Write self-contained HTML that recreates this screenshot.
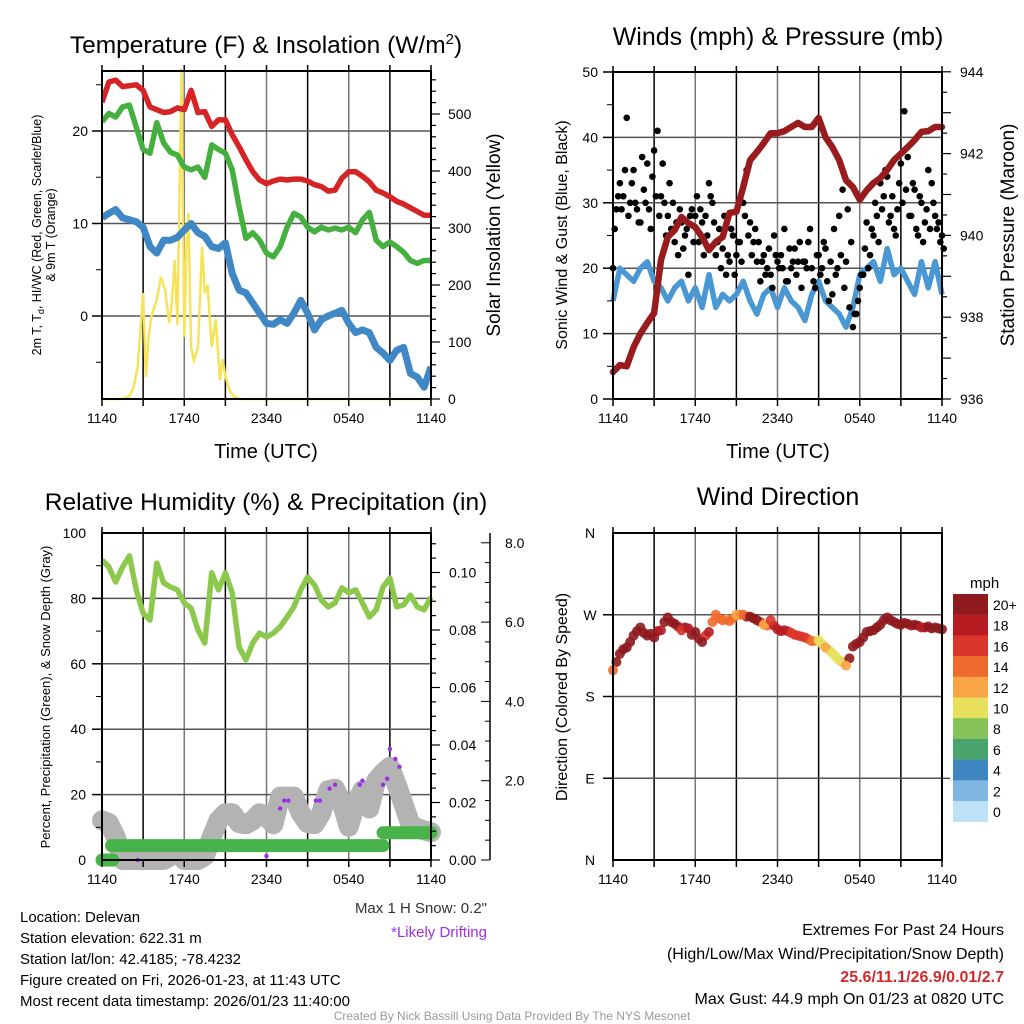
<!DOCTYPE html>
<html><head><meta charset="utf-8"><style>
body{margin:0;background:#fff;}
svg{display:block;font-family:"Liberation Sans",sans-serif;}
</style></head><body>
<svg id="c" width="1024" height="1024" xmlns="http://www.w3.org/2000/svg">
<g id="grid"></g><g id="marks"></g><g id="axes"></g>
<g id="txt" fill="#000">
<text x="266" y="53" font-size="24.5" text-anchor="middle">Temperature (F) &amp; Insolation (W/m<tspan dy="-9" font-size="15">2</tspan><tspan dy="9">)</tspan></text>
<text x="778" y="45" font-size="25" text-anchor="middle">Winds (mph) &amp; Pressure (mb)</text>
<text x="266" y="510" font-size="24.5" text-anchor="middle">Relative Humidity (%) &amp; Precipitation (in)</text>
<text x="778" y="505" font-size="25" text-anchor="middle">Wind Direction</text>
<text x="266" y="458" font-size="20" text-anchor="middle">Time (UTC)</text>
<text x="778" y="458" font-size="20" text-anchor="middle">Time (UTC)</text>
<text transform="translate(41,235) rotate(-90)" font-size="12.5" text-anchor="middle">2m T, T<tspan font-size="9" dy="3">d</tspan><tspan dy="-3">, HI/WC (Red, Green, Scarlet/Blue)</tspan></text>
<text transform="translate(55,235) rotate(-90)" font-size="12.5" text-anchor="middle">&amp; 9m T (Orange)</text>
<text transform="translate(500,235) rotate(-90)" font-size="19" text-anchor="middle">Solar Insolation (Yellow)</text>
<text transform="translate(567,235) rotate(-90)" font-size="16" text-anchor="middle">Sonic Wind &amp; Gust (Blue, Black)</text>
<text transform="translate(1014,235) rotate(-90)" font-size="19" text-anchor="middle">Station Pressure (Maroon)</text>
<text transform="translate(50,697) rotate(-90)" font-size="13" text-anchor="middle">Percent, Precipitation (Green), &amp; Snow Depth (Gray)</text>
<text transform="translate(567,697) rotate(-90)" font-size="16" text-anchor="middle">Direction (Colored By Speed)</text>
<text x="487" y="913" font-size="15" fill="#333" text-anchor="end">Max 1 H Snow: 0.2"</text>
<text x="487" y="937" font-size="15" fill="#9b30e8" text-anchor="end">*Likely Drifting</text>
<g font-size="15">
<text x="20" y="922">Location: Delevan</text>
<text x="20" y="943">Station elevation: 622.31 m</text>
<text x="20" y="964">Station lat/lon: 42.4185; -78.4232</text>
<text x="20" y="985">Figure created on Fri, 2026-01-23, at 11:43 UTC</text>
<text x="20" y="1006">Most recent data timestamp: 2026/01/23 11:40:00</text>
</g>
<g font-size="16" text-anchor="end">
<text x="1004" y="935">Extremes For Past 24 Hours</text>
<text x="1004" y="959">(High/Low/Max Wind/Precipitation/Snow Depth)</text>
<text x="1004" y="982" fill="#d02a2a" font-weight="bold">25.6/11.1/26.9/0.01/2.7</text>
<text x="1004" y="1004">Max Gust: 44.9 mph On 01/23 at 0820 UTC</text>
</g>
<text x="512" y="1020" font-size="12" fill="#999" text-anchor="middle">Created By Nick Bassill Using Data Provided By The NYS Mesonet</text>
<text x="970" y="588" font-size="15">mph</text>
</g>
</svg>
<script>
// ---- data (half-hourly, hours since 1140 UTC) ----
const xLabels=["1140","1740","2340","0540","1140"];
const tempRed=[23.1,25.3,25.5,24.8,24.9,25,24.4,22.6,22.3,22,22.1,22.5,22.3,24.4,22,22.1,20.5,21.2,21.2,19.6,18.3,16.9,15.6,14.7,14.3,14.6,14.8,14.7,14.8,14.8,14.6,14.2,14,13.5,13.6,14.9,15.6,15.6,15.1,14.5,13.6,13.3,12.9,12.4,12.1,11.7,11.3,10.9,10.9];
const dewGreen=[21,21.9,21.5,22.6,22.8,20.4,18,17.6,20.9,18.7,17.7,17.4,16.1,15.8,16.1,15,18.5,18,17.6,15.8,11.8,8.4,9,8.2,6.8,6.4,7.5,9.6,11.1,10.7,9.6,9.1,9.6,9.3,9.5,9.3,9.6,9,10.4,11.2,8.2,7.5,8,7.5,6.9,6,5.7,6,6];
const chillBlue=[10.6,11.1,11.5,10.6,10.4,10.2,9.6,7.5,6.8,8.2,8.2,8.5,9.3,10,9,8.6,7.5,7.3,7.9,4.6,2.8,2.5,1.4,0.3,-0.8,-0.9,-0.4,-0.8,0.3,1.7,0.3,-1.5,-0.4,0,0.3,0.6,-0.8,-1.8,-1.5,-1.8,-3.4,-4,-4.8,-3.7,-3.4,-6.2,-6.6,-7.7,-5.5];
const solarHours=[0,1.5,2,2.3,2.6,2.8,3,3.2,3.4,3.6,3.8,4,4.3,4.6,4.9,5.1,5.3,5.5,5.8,6,6.15,6.3,6.5,6.7,7,7.3,7.5,7.7,8,8.3,8.6,8.8,9,9.3,9.6,10,10.3,10.5,24];
const solarVals=[0,0,5,20,56,121,186,39,109,144,160,174,214,191,133,170,244,130,580,109,260,326,91,68,90,267,186,200,91,140,33,70,40,15,5,0,0,0,0];
const windBlue=[15,20,19,18,20,21,18,17,15,17,18,15,17,14,19,14,16,15,16,18,15,13,16,17,14,17,15,14,12,16,18,15,14,13,11,14,19,20,21,18,23,19,20,18,16,21,17,21,16];
const gustVals=[20,29,33,31,43,30,35,29,27,32,36,26,38,41,31,30,28,26,24,22,27,25,19,29,28,24,27,28,33,30,22,26,23,19,21,25,22,24,30,35,27,24,21,18,22,20,19,25,21,22,26,18,20,23,21,17,21,24,20,17,22,20,23,15,16,19,28,32,21,14,11,13,17,19,27,22,25,28,33,31,34,28,26,29,36,44,37,28,32,25,30,27,35,33,28,27,25];
const gustVals2=[26,31,29,35,28,33,30,27,37,30,29,34,31,28,36,25,33,30,27,29,23,26,28,24,31,29,22,25,31,27,24,20,28,22,26,19,24,21,28,25,22,26,24,21,19,23,17,22,20,20,18,23,21,19,24,21,20,26,18,22,19,24,18,21,26,20,22,17,29,24,13,15,19,23,20,26,30,24,29,35,27,31,25,33,30,32,28,33,26,31,24,29,26,30,26,24,23];
const pressure=[936.66,936.83,936.8,937.27,937.6,937.86,938.1,939.4,939.96,940.13,940.45,940.3,940.2,939.96,939.64,939.84,939.96,940.55,940.58,941.18,941.84,942.04,942.26,942.5,942.5,942.55,942.65,942.75,942.65,942.65,942.87,942.4,942.16,941.84,941.35,941.18,940.87,941.1,941.28,941.4,941.6,941.84,942.0,942.16,942.33,942.53,942.55,942.65,942.65];
const rhGreen=[91.7,89.6,85,89.6,93,82.6,75.5,73.4,90.8,84.7,83.5,82.6,78.6,77,70.3,66.4,87.8,82.6,87.8,81.7,65.1,61.2,66.4,69.4,68.2,69.4,71.3,74.3,77.4,82.6,86.5,84.1,79.5,77.4,78.6,83.2,81.7,82.6,78.6,74.3,76.5,83.5,86.2,77.4,78,81,77.4,76.5,80.4];
const precipStartHours=[0,0.7,20.5];
const precipEndHours=[0.8,20.5,24];
const precipVals=[0,0.005,0.0095];
const snowDepth=[1.0,0.93,0.58,0,0,0,0,0,0,0,0.1,0.25,0,0,0,0.1,0.58,1.0,1.18,1.18,0.93,0.9,1.0,1.18,1.1,0.9,1.6,1.6,1.6,1.18,0.93,0.9,1.18,1.76,1.8,1.43,0.84,1.43,1.76,1.3,2.0,2.2,2.35,1.9,1.4,0.9,0.8,0.75,0.7];
const driftHours=[2.6,12,13,13.3,13.6,15.6,15.9,16.6,17,18.8,19,20.5,20.8,21,21.4,21.7];
const driftVals=[0,0.1,1.3,1.5,1.5,1.5,1.5,1.8,1.9,1.9,2.0,1.9,2.05,2.8,2.55,2.35];
const dirDeg=[209,227,234,247,256,247,245,253,267,260,253,255,251,240,251,270,264,263,270,270,268,264,259,264,254,253,250,247,245,241,242,234,228,220,214,235,240,251,253,259,267,262,259,260,259,256,257,256,254];
const dirSpeed=[14,20,20,20,20,20,20,19,20,20,17,18,20,20,18,14,15,14,13,15,20,20,12,16,18,18,17,16,16,14,10,12,10,10,13,20,20,20,20,20,20,20,20,20,20,18,20,20,20];
const dirDeg2=[218,232,240,252,250,249,252,262,262,257,256,248,244,247,262,266,265,266,270,268,266,262,258,258,252,252,248,246,243,241,238,231,224,218,222,238,245,252,256,264,264,260,261,258,258,256,255,255];
const dirSpeed2=[20,20,20,20,20,20,20,20,20,18,20,20,20,17,15,14,13,15,14,20,20,16,14,18,18,17,16,16,15,12,11,10,10,12,20,20,20,20,20,20,20,20,20,19,20,20,20,20];
const cbLabels=["20+","18","16","14","12","10","8","6","4","2","0"];
const cbColors=["#8e1a1e","#b71c23","#d9352a","#ef6a2d","#f7a546","#e8e05c","#86c25a","#4aa46e","#3f86c0","#7fb6e2","#bfe1f5"];

const NS="http://www.w3.org/2000/svg";
const G=document.getElementById('grid'),M=document.getElementById('marks'),A=document.getElementById('axes');
function mk(p,tag,at){const e=document.createElementNS(NS,tag);for(const k in at)e.setAttribute(k,at[k]);p.appendChild(e);return e;}
function pathD(xs,ys){return xs.map((x,i)=>(i?'L':'M')+x.toFixed(1)+' '+ys[i].toFixed(1)).join(' ');}
const half=[...Array(49).keys()].map(i=>i/2);
function panelX(x0){return h=>x0+h/24*329;}
function frame(x0,y0,w,h,hgrid,name){
  for(let i=0;i<=8;i++){const x=x0+i*w/8;const l=mk(G,'line',{x1:x,x2:x,y1:y0,y2:y0+h,stroke:i%2?'#000':'#777','stroke-width':1.5});
    
    mk(A,'line',{x1:x,x2:x,y1:y0-6,y2:y0,stroke:'#000','stroke-width':1.5});
    mk(A,'line',{x1:x,x2:x,y1:y0+h,y2:y0+h+7,stroke:'#000','stroke-width':1.5});}
  hgrid.forEach(y=>{mk(G,'line',{x1:x0,x2:x0+w,y1:y,y2:y,stroke:'#555','stroke-width':1.5});mk(A,'line',{x1:x0-10,x2:x0,y1:y,y2:y,stroke:'#000','stroke-width':1.5});});
  const r=mk(A,'rect',{x:x0,y:y0,width:w,height:h,fill:'none',stroke:'#000','stroke-width':2});
  
  xLabels.forEach((t,i)=>{const e=mk(A,'text',{x:x0+i*w/4,y:y0+h+24,'font-size':14,'text-anchor':'middle'});e.textContent=t;
    });
}
function ylab(x,y,t,anchor){const e=mk(A,'text',{x:x,y:y+5,'font-size':14,'text-anchor':anchor});e.textContent=t;
  }
function rightTicks(x,yTop,yBot,step,major){for(let y=yBot,i=0;y>=yTop-0.5;y-=step,i++){mk(A,'line',{x1:x,x2:x+(i%major?5:9),y1:y,y2:y,stroke:'#000','stroke-width':1.2});}}

// ---- Panel 1 ----
{const X=panelX(102),Y=v=>316-v*9.25,S=s=>399-s*0.57;
 frame(102,71,329,328,[Y(20),Y(10),Y(0)],'temp');
 [-5,5,15,25].forEach(v=>mk(A,'line',{x1:96,x2:102,y1:Y(v),y2:Y(v),stroke:'#000'}));
 [20,10,0].forEach(v=>ylab(88,Y(v),v,'end'));
 rightTicks(431,71,399,11.4,5);
 [0,100,200,300,400,500].forEach(v=>ylab(448,S(v),v,'start'));
 const cp=mk(M,'clipPath',{id:'cp1'});mk(cp,'rect',{x:102,y:66,width:329,height:336});
 const g=mk(M,'g',{'clip-path':'url(#cp1)'});
 let e=mk(g,'path',{d:pathD(solarHours.map(X),solarVals.map(S)),fill:'none',stroke:'#f7e35a','stroke-width':2.5});
 e=mk(g,'path',{d:pathD(half.map(X),chillBlue.map(Y)),fill:'none',stroke:'#3f88c5','stroke-width':7,'stroke-linejoin':'round'});
 e=mk(g,'path',{d:pathD(half.map(X),dewGreen.map(Y)),fill:'none',stroke:'#45b03f','stroke-width':5.5,'stroke-linejoin':'round'});
 e=mk(g,'path',{d:pathD(half.map(X),tempRed.map(Y)),fill:'none',stroke:'#d62426','stroke-width':5.5,'stroke-linejoin':'round'});
}
// ---- Panel 2 ----
{const X=panelX(613),Y=v=>399-v*6.54,P=p=>399-(p-936)*40.9;
 frame(613,72,329,327,[0,10,20,30,40,50].map(Y),'winds');
 [5,15,25,35,45].forEach(v=>mk(A,'line',{x1:607,x2:613,y1:Y(v),y2:Y(v),stroke:'#000'}));
 [0,10,20,30,40,50].forEach(v=>ylab(598,Y(v),v,'end'));
 rightTicks(942,72,399,20.45,2);
 [936,938,940,942,944].forEach(v=>ylab(960,P(v),v,'start'));
 let e=mk(M,'path',{d:pathD(half.map(X),windBlue.map(Y)),fill:'none',stroke:'#4a98d3','stroke-width':5.5,'stroke-linejoin':'round'});
 gustVals.forEach((v,i)=>{const c=mk(M,'circle',{cx:X(i/4),cy:Y(v),r:3.3,fill:'#000'});
  
  });
 gustVals2.forEach((v,i)=>{const c=mk(M,'circle',{cx:X(i/4+0.125),cy:Y(v),r:3.3,fill:'#000'});
  
  });
 e=mk(M,'path',{d:pathD(half.map(X),pressure.map(P)),fill:'none',stroke:'#981b1e','stroke-width':6.5,'stroke-linejoin':'round','stroke-linecap':'round'});
}
// ---- Panel 3 ----
{const X=panelX(102),Y=v=>860-v*3.27,PR=p=>860-p*2875,SN=s=>860-s*39.65;
 frame(102,533,329,327,[20,40,60,80].map(Y),'rh');
 [10,30,50,70,90].forEach(v=>mk(A,'line',{x1:96,x2:102,y1:Y(v),y2:Y(v),stroke:'#000'}));
 [0,20,40,60,80,100].forEach(v=>ylab(86,Y(v),v,'end'));
 rightTicks(431,533,860,14.375,4);
 [0,0.02,0.04,0.06,0.08,0.10].forEach(v=>ylab(449,PR(v),v.toFixed(2),'start'));
 mk(A,'line',{x1:490,x2:490,y1:533,y2:860,stroke:'#000','stroke-width':1.5});
 for(let s=0;s<=8;s+=0.5)mk(A,'line',{x1:490,x2:s%2?485:481,y1:SN(s),y2:SN(s),stroke:'#000'});
 [2,4,6,8].forEach(v=>ylab(505,SN(v),v.toFixed(1),'start'));
 const cp=mk(M,'clipPath',{id:'cp3'});mk(cp,'rect',{x:92,y:533,width:350,height:340});
 const g=mk(M,'g',{'clip-path':'url(#cp3)'});
 let e=mk(g,'path',{d:pathD(half.map(X),snowDepth.map(SN)),fill:'none',stroke:'#b3b3b3','stroke-width':20,'stroke-linejoin':'round','stroke-linecap':'round'});
 precipVals.forEach((p,i)=>{const s=mk(g,'line',{x1:X(precipStartHours[i]),x2:X(precipEndHours[i]),y1:PR(p),y2:PR(p),stroke:'#48b348','stroke-width':13,'stroke-linecap':'round'});
  
  });
 driftVals.forEach((v,i)=>{const c=mk(g,'circle',{cx:X(driftHours[i]),cy:SN(v),r:2.2,fill:'#9b30e8'});
  
  });
 e=mk(M,'path',{d:pathD(half.map(X),rhGreen.map(Y)),fill:'none',stroke:'#8cc84b','stroke-width':5.5,'stroke-linejoin':'round'});
}
// ---- Panel 4 ----
{const X=panelX(613),D=d=>860-d/360*327;
 frame(613,533,329,327,[90,180,270].map(D),'direction');
 ["N","E","S","W","N"].forEach((t,i)=>ylab(590,D(i*90),t,'middle'));
 mk(A,'line',{x1:942,x2:950,y1:D(90),y2:D(90),stroke:'#000'});
 const colorFor=s=>cbColors[Math.max(0,Math.min(10,10-Math.floor(s/2)))];
 dirDeg2.forEach((d,i)=>{const c=mk(M,'circle',{cx:X(i/2+0.25),cy:D(d),r:5,fill:colorFor(dirSpeed2[i]),'fill-opacity':0.9});
  
  });
 dirDeg.forEach((d,i)=>{const c=mk(M,'circle',{cx:X(i/2),cy:D(d),r:5,fill:colorFor(dirSpeed[i]),'fill-opacity':0.9});
  
  });
 cbColors.forEach((col,i)=>{const r=mk(A,'rect',{x:953,y:594+i*20.7,width:35,height:20.9,fill:col});
  
  
  const t=mk(A,'text',{x:993,y:594+i*20.7+16,'font-size':14});t.textContent=cbLabels[i];
  
  });
}
</script>
</body></html>
